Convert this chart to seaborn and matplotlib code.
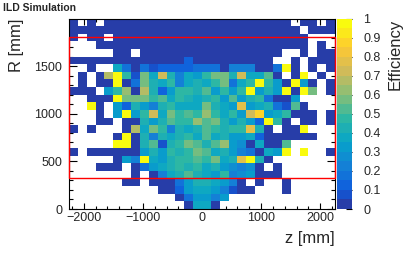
import numpy as np
import pandas as pd
import matplotlib
matplotlib.use("Agg")
import matplotlib.pyplot as plt
from matplotlib.colors import LinearSegmentedColormap, ListedColormap
from matplotlib.patches import Rectangle
import seaborn as sns

N = np.nan

# binning of the efficiency map
z_min, z_max, n_z = -2250, 2250, 30
r_min, r_max, n_r = 0, 2000, 25

z_ticks = [-2000, -1000, 0, 1000, 2000]
r_ticks = [0, 500, 1000, 1500]
eff_ticks = [0, 0.1, 0.2, 0.3, 0.4, 0.5, 0.6, 0.7, 0.8, 0.9, 1]
eff_labels = ["0", "0.1", "0.2", "0.3", "0.4", "0.5", "0.6", "0.7", "0.8", "0.9", "1"]

# TPC inner / outer radius
tpc_r_inner, tpc_r_outer = 329, 1808

# efficiency per cell, rows from R = 2000 (top) down to R = 0, columns z = -2250 .. 2250
efficiency = [
    [0, N, 0, N, 0, 0, 0, 0, 0, 0, 0, 0, 0, 0, 0, 0, 0, 0, 0, 0, 0, 0, 0, 0, 0, N, 0, 0, N, 0],
    [0, 0, 0, 0, 0, 0, 0, 0, 0, 0, 0, 0, 0, 0, 0, 0, 0, 0, 0, 0, 0, 0, 0, 0, 0, 0, N, 0, 0, 0],
    [0, N, 0, 0, N, 0, 0, 0, 0, 0, 0, 0, 0, 0, 0, 0, 0, 0, 0, 0, 0, 0, 0, 0, 0, 0, 0, N, N, N],
    [N, N, N, 0, 0, 0, 0, 0, 0, 0, 0, 0, 0, 0, 0, 0, 0, 0, 0, 0, 0, 0, 0, 0, 0, 0, 0, N, 0, N],
    [N, N, N, N, N, 0, 0, N, 0, 0, 0, 0, 0, 0, 0, 0, 0, 0, 0, 0, 0, 0, 0, 0, N, N, 0, N, 0, 0],
    [0, 0, 0, 0, 0, 0, 0, 0, 0, 0, 0, 0, 0, .1, 0, 0, 0, 0, 0, 0, 0, 0, 0, N, N, 0, N, 0, 0, 0],
    [N, N, 0, N, N, .35, .15, 0, .15, .05, .1, .1, .1, .12, .15, .15, .15, 0, .2, .2, .2, 0, 0, .15, 1, 0, N, 0, N, 0],
    [N, 0, N, 0, .68, 1, .45, .05, .55, .35, .7, .4, .2, .35, .3, .45, .55, .55, .4, .7, .35, .35, .5, 0, N, 0, 1, N, 0, N],
    [N, 0, N, 0, 0, 1, 0, .15, .55, .4, .35, .45, .2, .35, .4, .35, .45, .55, .15, .35, .45, 1, .45, .3, 0, 1, .3, 0, N, 0],
    [0, 0, 0, N, .3, .45, .6, 0, .65, .4, .1, .3, .45, .45, .4, .5, .3, .45, .3, .45, 1, .3, .4, .3, 1, 0, 1, .55, N, 0],
    [N, N, 0, 0, 0, 1, .55, .55, .55, .45, .5, .35, .45, .4, .35, .4, .45, .3, .5, .3, .4, .45, .15, 0, 0, .3, N, N, N, N],
    [N, N, 1, 0, N, .3, .1, .4, .3, .2, .4, .45, .35, .35, .35, .55, .4, .35, .3, .75, .3, .35, .4, .15, .05, .5, 0, N, N, N],
    [N, N, N, 0, N, .3, 1, .3, .45, .7, .35, .55, .45, .5, .45, .6, .45, .35, .45, .3, .7, .85, .3, .35, .45, 0, 0, 0, N, 0],
    [N, N, N, 0, 0, N, 0, 0, .4, .3, .4, .5, .45, .45, .6, .5, .55, .4, .3, .4, .3, .1, 1, .45, 0, N, 0, 0, N, 0],
    [0, N, 0, N, N, N, 0, .65, .35, .55, .45, .2, .4, .35, .4, .5, .45, .4, .45, .45, .75, .4, 0, N, 0, 0, 1, N, N, N],
    [N, N, N, N, N, 0, 1, 0, .4, .2, .4, .35, .4, .45, .35, .5, .35, .4, .3, .3, .35, .1, 0, 0, 0, 0, 0, 0, N, N],
    [N, N, N, N, N, 1, 1, 0, .4, .5, .05, .4, .45, .55, .5, .4, .5, .6, .3, .25, 0, .35, 0, 0, .5, N, N, N, N, N],
    [0, N, 0, 0, 0, 0, 0, 0, .3, .4, .3, .45, .4, .45, .55, .5, .35, .4, .3, .2, .15, 0, .35, .3, 1, N, 1, N, N, 0],
    [N, N, N, N, N, 0, .3, .2, 1, .35, .3, .4, .45, .45, .5, .45, .55, .35, .4, .75, 1, .4, 0, N, N, N, N, N, N, N],
    [N, N, N, 0, 0, 0, N, 0, .15, .3, .35, .4, .45, .4, .45, .35, .4, .3, .25, .2, .25, 0, N, 0, N, N, N, N, N, N],
    [N, N, N, N, N, N, N, 0, N, 0, .2, .35, .4, .5, .4, .35, .3, .45, .2, .25, .3, 0, 0, 0, N, N, N, N, N, N],
    [N, N, N, N, N, N, 0, 0, N, 0, 0, 0, .15, .3, .4, .4, .35, .3, .2, 0, N, 0, N, N, 0, N, N, N, N, N],
    [N, N, N, N, N, N, N, N, N, N, 0, 0, .1, .3, .35, .35, .3, .2, .05, 0, 0, N, N, N, 0, N, N, N, N, N],
    [N, N, N, N, N, N, N, N, N, N, N, N, 0, .15, .3, .3, .2, .3, N, N, N, N, N, N, N, N, N, N, N, N],
    [N, N, N, N, N, N, N, N, N, N, N, N, N, 0, .35, .35, 0, N, N, N, N, N, N, N, N, N, N, N, N, N],
]

dz = (z_max - z_min) / n_z
dr = (r_max - r_min) / n_r


def zpos(z):
    return (z - z_min) / dz


def rpos(r):
    # heatmap rows run top-down
    return (r_max - r) / dr


# ROOT kBird palette, 20 contour levels
bird_stops = [0.0, 0.125, 0.25, 0.375, 0.5, 0.625, 0.75, 0.875, 1.0]
bird_r = [0.2082, 0.0592, 0.0780, 0.0232, 0.1802, 0.5301, 0.8186, 0.9956, 0.9764]
bird_g = [0.1664, 0.3599, 0.5041, 0.6419, 0.7178, 0.7492, 0.7328, 0.7862, 0.9832]
bird_b = [0.5293, 0.8684, 0.8385, 0.7914, 0.6425, 0.4662, 0.3499, 0.1968, 0.0539]
bird = LinearSegmentedColormap.from_list(
    "bird", list(zip(bird_stops, zip(bird_r, bird_g, bird_b))))
n_levels = 20
cmap = ListedColormap([bird(min((i + 0.99) / n_levels, 1.0)) for i in range(n_levels)])

sns.set_style("ticks")
plt.rcParams["font.family"] = ["Liberation Sans", "DejaVu Sans"]

fig = plt.figure(figsize=(4.07, 2.56), dpi=100)
ax = fig.add_axes([69 / 407, 1 - 209 / 256, 266 / 407, 190.5 / 256])
cax = fig.add_axes([337 / 407, 1 - 209 / 256, 15 / 407, 190.5 / 256])

df = pd.DataFrame(efficiency)
sns.heatmap(df, ax=ax, cbar_ax=cax, cmap=cmap, vmin=0, vmax=1,
            xticklabels=False, yticklabels=False)

for s in ax.spines.values():
    s.set_visible(True)
    s.set_color("black")
    s.set_linewidth(0.8)

ax.set_xticks([zpos(z) for z in z_ticks])
ax.set_xticklabels([str(z).replace("-", "\u2212") for z in z_ticks], fontsize=9)
ax.set_xticks([zpos(z) for z in range(-2200, 2201, 200)], minor=True)
ax.set_yticks([rpos(r) for r in r_ticks])
ax.set_yticklabels([str(r) for r in r_ticks], fontsize=9, rotation=0)
ax.set_yticks([rpos(r) for r in range(100, 2000, 100)], minor=True)
ax.tick_params(axis="both", which="both", direction="in", top=True, right=True,
               width=0.8, color="black")
ax.tick_params(axis="x", which="major", length=4, pad=2)
ax.tick_params(axis="x", which="minor", length=2)
ax.tick_params(axis="y", which="major", length=5.5, pad=5)
ax.tick_params(axis="y", which="minor", length=2.8)
ax.set_xlabel("")
ax.set_ylabel("")

# TPC volume
ax.add_patch(Rectangle((zpos(z_min), rpos(tpc_r_outer)), n_z,
                       rpos(tpc_r_inner) - rpos(tpc_r_outer),
                       fill=False, edgecolor="#ff0000", linewidth=1.0,
                       clip_on=False, zorder=5))

cbar = ax.collections[0].colorbar
cbar.set_ticks(eff_ticks)
cbar.set_ticklabels(eff_labels)
cax.tick_params(direction="in", length=4, width=0.8, labelsize=9, pad=8,
                color="black", right=True, left=False)
cbar.outline.set_linewidth(0)

fig.text(17 / 407, 1 - 19 / 256, "R [mm]", rotation=90, ha="center", va="top", fontsize=12)
fig.text(335 / 407, 1 - 246 / 256, "z [mm]", ha="right", va="bottom", fontsize=12)
fig.text(395 / 407, 1 - 19 / 256, "Efficiency", rotation=90, ha="center", va="top", fontsize=12)
fig.text(3 / 407, 1 - 3 / 256, "ILD Simulation", ha="left", va="top", fontsize=7.5,
         fontweight="bold")

fig.savefig("out.png", dpi=100)
